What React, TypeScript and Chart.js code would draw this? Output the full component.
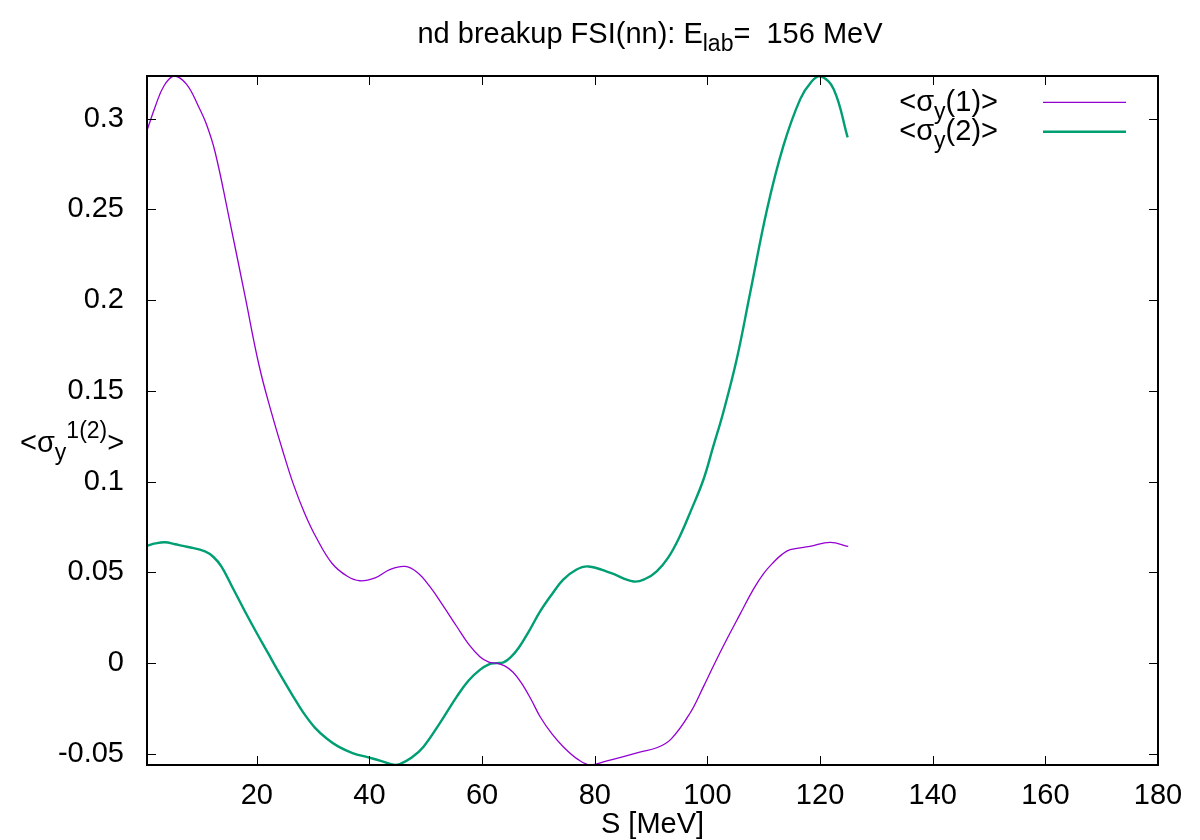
import React, { useEffect, useRef } from "react";
import { Chart, registerables } from "chart.js";

Chart.register(...registerables);

// ---- data ----
const energy1 = [
  0.5, 2, 3.5, 5.3, 7.5, 9.6, 11.1, 12.6, 14.9, 17.9, 20.4, 22.6, 24.5, 26.5, 28.5,
  30.5, 33.3, 36, 38.3, 41, 43.6, 46.3, 48.5, 50.7, 53, 55.5, 57.6, 59.6, 61.2,
  62.6, 64, 65.5, 67, 68.7, 70.3, 72.4, 74.4, 77, 79.2, 82, 85.1, 88, 91, 93.5,
  96.9, 99.3, 101.3, 103.4, 105.8, 108.1, 110, 111.7, 113.2, 114.7, 118.2, 121.8,
  125.0,
];
const sigma1 = [
  0.2934, 0.307, 0.318, 0.3235, 0.319, 0.307, 0.2965, 0.2815, 0.248, 0.2023,
  0.164, 0.138, 0.118, 0.0985, 0.0825, 0.0695, 0.0552, 0.048, 0.0454, 0.047,
  0.0515, 0.0533, 0.05, 0.0423, 0.032, 0.0202, 0.0105, 0.0036, 0.0006, 0.0,
  -0.0015, -0.005, -0.011, -0.02, -0.0295, -0.039, -0.046, -0.053, -0.0561,
  -0.054, -0.0515, -0.049, -0.0466, -0.042, -0.0276, -0.0129, 0.0, 0.0129, 0.027,
  0.0404, 0.0495, 0.0555, 0.0598, 0.0625, 0.0643, 0.0666, 0.0643,
];
const energy2 = [
  0.5, 2, 3.7, 5.5, 7.8, 10.8, 12.3, 13.7, 15.8, 17.9, 20, 22.0, 24, 26.2, 28.2,
  30.3, 32.4, 34.5, 37, 39.8, 42, 44.5, 45.4, 47.5, 49.6, 52.5, 55.5, 57.6, 59.6,
  61.2, 62.6, 63.8, 65, 66.5, 68.2, 70.3, 72.4, 74.4, 76.7, 78.9, 82.8, 86.9, 89,
  91.0, 93, 95.1, 97, 99.3, 101, 102.8, 105.2, 107.6, 110.6, 113.5, 116.5, 118.5,
  120.0, 122.4, 124.9,
];
const sigma2 = [
  0.0647, 0.066, 0.0666, 0.0655, 0.064, 0.0616, 0.0585, 0.0533, 0.041, 0.0285,
  0.0165, 0.0055, -0.0055, -0.017, -0.027, -0.0355, -0.0415, -0.046, -0.0495,
  -0.0519, -0.0538, -0.0561, -0.0556, -0.052, -0.046, -0.033, -0.0184, -0.0095,
  -0.0037, -0.0006, 0.0, 0.0004, 0.003, 0.0085, 0.017, 0.0285, 0.038, 0.046,
  0.0515, 0.0533, 0.0497, 0.045, 0.0465, 0.0506, 0.058, 0.0699, 0.0835, 0.1012,
  0.119, 0.138, 0.1674, 0.2042, 0.2502, 0.2851, 0.3109, 0.3205, 0.3235, 0.3164,
  0.2897,
];

const xTickValues = [20, 40, 60, 80, 100, 120, 140, 160, 180];
const yTickValues = [-0.05, 0, 0.05, 0.1, 0.15, 0.2, 0.25, 0.3];
const yTickLabels = ["-0.05", "0", "0.05", "0.1", "0.15", "0.2", "0.25", "0.3"];
const xRange = [0.5, 180];
const yRange = [-0.0561, 0.3235];

const titleMain = "nd breakup FSI(nn): E";
const titleSub = "lab";
const titleTail = "=  156 MeV";
const xAxisTitle = "S [MeV]";
const seriesSuffix = ["(1)>", "(2)>"];
const seriesColors = ["#9400d3", "#009e73"];
const seriesWidths = [1.3, 2.4];

const FONT = '"Liberation Sans", Arial, Helvetica, sans-serif';
const BIG = 29;
const SMALL = 23;

type Part = { t: string; s: number; dy: number };

function partsWidth(ctx: CanvasRenderingContext2D, parts: Part[]) {
  let w = 0;
  for (const p of parts) {
    ctx.font = `${p.s}px ${FONT}`;
    w += ctx.measureText(p.t).width;
  }
  return w;
}

function drawParts(
  ctx: CanvasRenderingContext2D,
  parts: Part[],
  x: number,
  baseline: number,
  align: "left" | "center" | "right"
) {
  const w = partsWidth(ctx, parts);
  let cx = align === "left" ? x : align === "center" ? x - w / 2 : x - w;
  ctx.textAlign = "left";
  ctx.textBaseline = "alphabetic";
  ctx.fillStyle = "#000";
  for (const p of parts) {
    ctx.font = `${p.s}px ${FONT}`;
    ctx.fillText(p.t, cx, baseline + p.dy);
    cx += ctx.measureText(p.t).width;
  }
}

const decorPlugin = {
  id: "gnuplotDecor",
  afterDatasetsDraw(chart: any) {
    const ctx: CanvasRenderingContext2D = chart.ctx;
    const { left, right, top, bottom } = chart.chartArea;
    const xs = chart.scales.x;
    const ys = chart.scales.y;
    ctx.save();
    // ticks (inward, mirrored)
    ctx.strokeStyle = "#000";
    ctx.lineWidth = 1;
    ctx.beginPath();
    for (const v of xTickValues) {
      const px = Math.round(xs.getPixelForValue(v)) + 0.5;
      ctx.moveTo(px, bottom);
      ctx.lineTo(px, bottom - 9);
      ctx.moveTo(px, top);
      ctx.lineTo(px, top + 9);
    }
    for (const v of yTickValues) {
      const py = Math.round(ys.getPixelForValue(v)) + 0.5;
      ctx.moveTo(left, py);
      ctx.lineTo(left + 9, py);
      ctx.moveTo(right, py);
      ctx.lineTo(right - 9, py);
    }
    ctx.stroke();
    // border
    ctx.lineWidth = 2;
    ctx.strokeRect(left, top, right - left, bottom - top);

    // title
    drawParts(
      ctx,
      [
        { t: titleMain, s: BIG, dy: 0 },
        { t: titleSub, s: SMALL, dy: 8 },
        { t: titleTail, s: BIG, dy: 0 },
      ],
      650,
      43,
      "center"
    );
    // x axis title
    drawParts(ctx, [{ t: xAxisTitle, s: BIG, dy: 0 }], (left + right) / 2, 833, "center");
    // y axis title
    drawParts(
      ctx,
      [
        { t: "<σ", s: BIG, dy: 0 },
        { t: "y", s: SMALL, dy: 8 },
        { t: "1(2)", s: SMALL, dy: -14 },
        { t: ">", s: BIG, dy: 0 },
      ],
      20,
      452,
      "left"
    );
    // legend
    for (let i = 0; i < 2; i++) {
      const base = 111 + i * 29.4;
      drawParts(
        ctx,
        [
          { t: "<σ", s: BIG, dy: 0 },
          { t: "y", s: SMALL, dy: 8 },
          { t: seriesSuffix[i], s: BIG, dy: 0 },
        ],
        998,
        base,
        "right"
      );
      ctx.strokeStyle = seriesColors[i];
      ctx.lineWidth = seriesWidths[i];
      ctx.beginPath();
      const ly = base - 8.7;
      ctx.moveTo(1043, ly);
      ctx.lineTo(1126, ly);
      ctx.stroke();
    }
    ctx.restore();
  },
};

export default function App() {
  const ref = useRef<HTMLCanvasElement | null>(null);
  useEffect(() => {
    if (!ref.current) return;
    const d1 = energy1.map((x, i) => ({ x, y: sigma1[i] }));
    const d2 = energy2.map((x, i) => ({ x, y: sigma2[i] }));
    const tickFont = { family: FONT, size: BIG };
    const chart = new Chart(ref.current, {
      type: "line",
      data: {
        datasets: [
          {
            label: "<σy(1)>",
            data: d1,
            borderColor: seriesColors[0],
            borderWidth: seriesWidths[0],
            pointRadius: 0,
            fill: false,
            tension: 0.4,
          },
          {
            label: "<σy(2)>",
            data: d2,
            borderColor: seriesColors[1],
            borderWidth: seriesWidths[1],
            pointRadius: 0,
            fill: false,
            tension: 0.4,
          },
        ],
      },
      options: {
        responsive: false,
        animation: false,
        devicePixelRatio: 1,
        layout: { padding: { top: 76, right: 42, left: 0, bottom: 0 } },
        plugins: {
          legend: { display: false },
          title: { display: false },
          tooltip: { enabled: false },
        },
        scales: {
          x: {
            type: "linear",
            min: xRange[0],
            max: xRange[1],
            grid: { display: false },
            border: { display: false },
            afterBuildTicks: (s: any) => {
              s.ticks = xTickValues.map((v) => ({ value: v }));
            },
            afterFit: (s: any) => {
              s.height = 75;
            },
            ticks: {
              autoSkip: false,
              maxRotation: 0,
              padding: 6,
              color: "#000",
              font: tickFont,
              callback: (v: any) => String(v),
            },
          },
          y: {
            type: "linear",
            min: yRange[0],
            max: yRange[1],
            grid: { display: false },
            border: { display: false },
            afterBuildTicks: (s: any) => {
              s.ticks = yTickValues.map((v) => ({ value: v }));
            },
            afterFit: (s: any) => {
              s.width = 147;
            },
            ticks: {
              autoSkip: false,
              padding: 15,
              color: "#000",
              font: tickFont,
              callback: (v: any) => {
                const i = yTickValues.findIndex((t) => Math.abs(t - v) < 1e-9);
                return i >= 0 ? yTickLabels[i] : "";
              },
            },
          },
        },
      },
      plugins: [decorPlugin],
    } as any);
    return () => chart.destroy();
  }, []);
  return (
    <div style={{ position: "fixed", left: 0, top: 0, width: 1200, height: 840, background: "#fff" }}>
      <canvas ref={ref} width={1200} height={840} style={{ display: "block", width: 1200, height: 840 }} />
    </div>
  );
}
